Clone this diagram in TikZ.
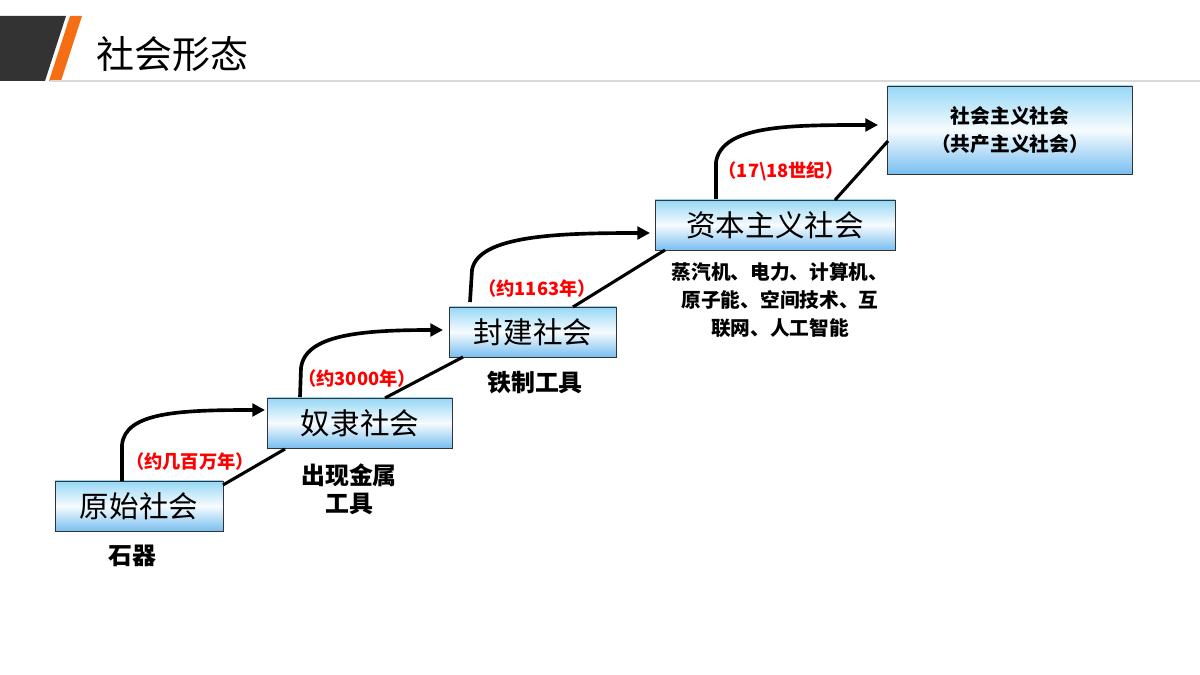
\documentclass[tikz,border=0pt]{standalone}
\usepackage{fontspec}
\setmainfont{Noto Sans CJK SC}
\usetikzlibrary{arrows.meta}
\definecolor{boxtop}{RGB}{150,215,245}
\definecolor{boxbot}{RGB}{120,190,240}
\definecolor{slash}{RGB}{245,110,20}
\tikzset{
  stage/.style={draw=black!80, minimum height=1.25cm, inner sep=0pt,
    top color=boxtop, bottom color=boxbot, middle color=white!92!boxtop,
    font=\fontsize{21}{24}\selectfont},
  stair/.style={line width=2.2pt},
  jump/.style={line width=2.6pt, -{Triangle[length=9pt,width=9pt]}},
  years/.style={text=red, font=\bfseries\itshape\fontsize{13}{15}\selectfont},
  tool/.style={font=\bfseries\fontsize{17}{20}\selectfont, align=center}
}
\begin{document}
\begin{tikzpicture}[x=0.025cm, y=-0.025cm]
  \useasboundingbox (0,0) rectangle (1200,675);
  % header
  \fill[black!80] (0,16) -- (66,16) -- (45,81) -- (0,81) -- cycle;
  \fill[slash] (70,16) -- (82,16) -- (61,81) -- (49,81) -- cycle;
  \draw[black!15, line width=1pt] (50,81) -- (1200,81);
  \node[anchor=west, font=\fontsize{27}{30}\selectfont] (title) at (92,54) {社会形态};
  % stages
  \node[stage, minimum width=4.2cm] (prim) at (139,506) {原始社会};
  \node[stage, minimum width=4.62cm] (slave) at (360,423) {奴隶社会};
  \node[stage, minimum width=4.17cm] (feud) at (533,332) {封建社会};
  \node[stage, minimum width=6cm] (capi) at (775,225) {资本主义社会};
  \node[stage, minimum width=6.12cm, minimum height=2.2cm, align=center,
    font=\bfseries\fontsize{14}{20}\selectfont] (soci) at (1010,130) {社会主义社会\\（共产主义社会）};
  % stairs
  \draw[stair] (223,485) -- (285,449);
  \draw[stair] (385,398) -- (463,357);
  \draw[stair] (573,307) -- (665,250);
  \draw[stair] (835,200) -- (888,141);
  % jumps
  \draw[jump] (122,481) -- (122,445) .. controls (125,412) and (180,410) .. (265,410);
  \draw[jump] (300,397) -- (301,368) .. controls (305,335) and (360,330) .. (443,330);
  \draw[jump] (470,302) -- (472,270) .. controls (478,235) and (560,233) .. (650,233);
  \draw[jump] (716,199) -- (716,162) .. controls (722,125) and (790,125) .. (878,125);
  % years
  \node[years] (y1) at (190,462) {（约几百万年）};
  \node[years] (y2) at (357,379) {（约3000年）};
  \node[years] (y3) at (537,289) {（约1163年）};
  \node[years] (y4) at (781,171) {（17\textbackslash18世纪）};
  % tools
  \node[tool] (t1) at (132,556) {石器};
  \node[tool] (t2) at (349,489) {出现金属\\工具};
  \node[tool] (t3) at (535,383) {铁制工具};
  \node[tool, font=\bfseries\fontsize{14}{20}\selectfont] (t4) at (780,300) {蒸汽机、电力、计算机、\\原子能、空间技术、互\\联网、人工智能};
\end{tikzpicture}
\end{document}
